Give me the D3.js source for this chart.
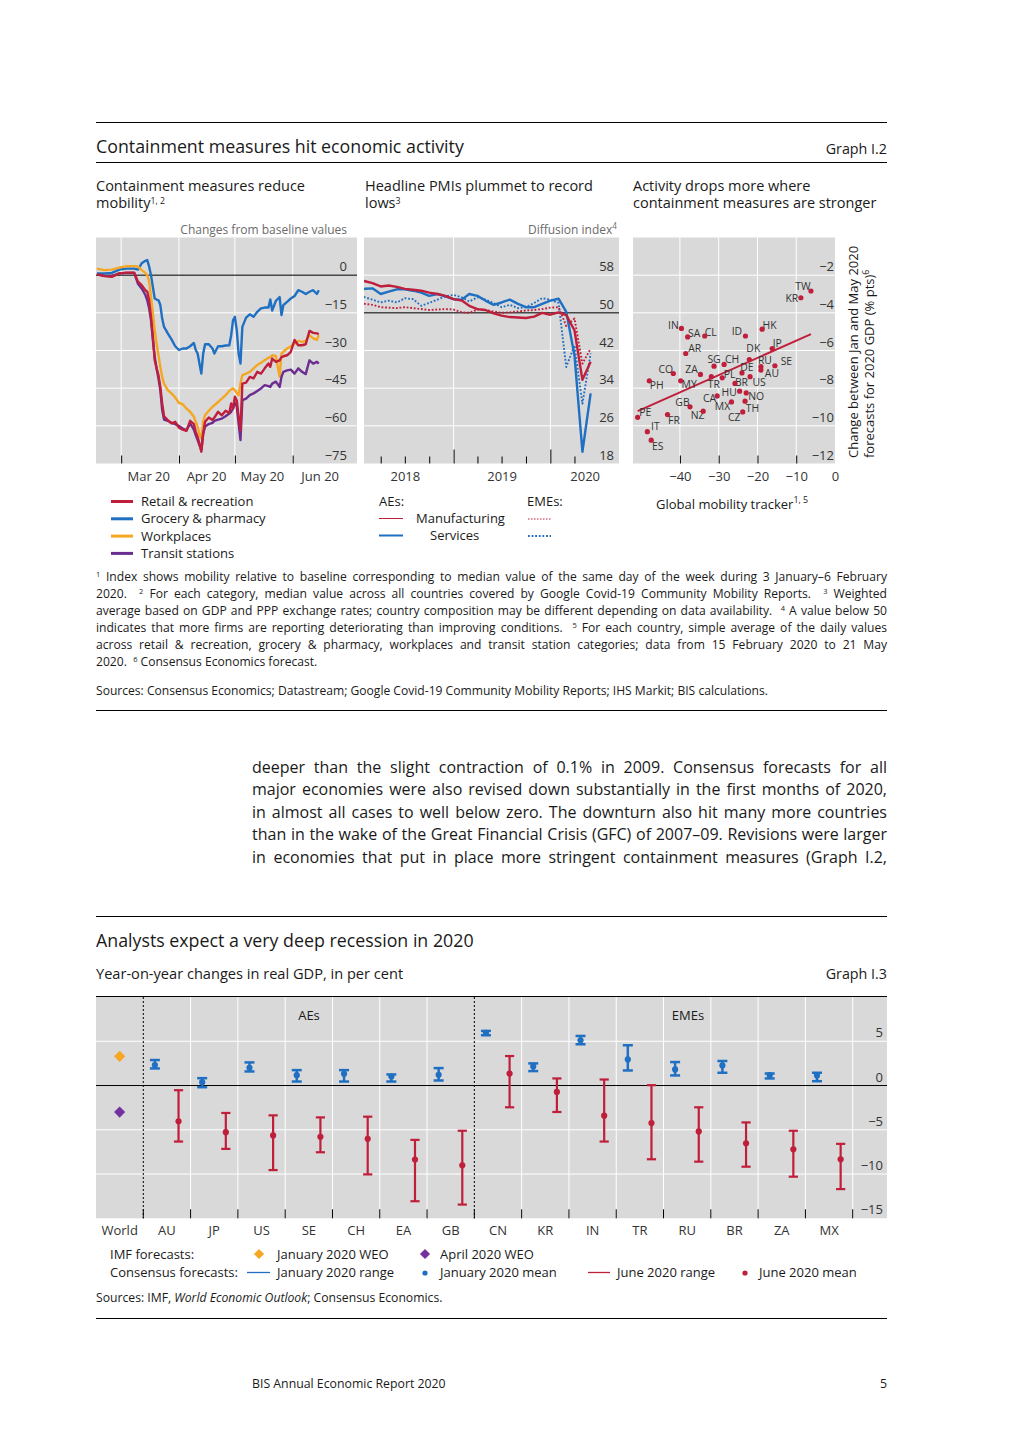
<!DOCTYPE html>
<html><head><meta charset="utf-8">
<script src="https://cdn.jsdelivr.net/npm/d3@7/dist/d3.min.js"></script>
<style>
html,body{margin:0;padding:0;background:#fff;}
svg{display:block;font-family:'Open Sans','Noto Sans',sans-serif;}
</style></head>
<body>
<svg id="page" width="1019" height="1440"></svg>
<script>
// ================= DATA =================
// Panel 1: mobility (changes from baseline)
const mobDates = ["2020-02-17","2020-02-21","2020-02-25","2020-02-29","2020-03-04","2020-03-08","2020-03-10","2020-03-12","2020-03-14","2020-03-15","2020-03-16","2020-03-17","2020-03-18","2020-03-19","2020-03-20","2020-03-21","2020-03-22","2020-03-23","2020-03-24","2020-03-26","2020-03-28","2020-03-30","2020-04-01","2020-04-03","2020-04-05","2020-04-07","2020-04-09","2020-04-10","2020-04-11","2020-04-12","2020-04-13","2020-04-14","2020-04-15","2020-04-17","2020-04-19","2020-04-20","2020-04-22","2020-04-24","2020-04-26","2020-04-28","2020-04-29","2020-04-30","2020-05-01","2020-05-02","2020-05-03","2020-05-04","2020-05-05","2020-05-07","2020-05-09","2020-05-11","2020-05-13","2020-05-15","2020-05-17","2020-05-19","2020-05-20","2020-05-21","2020-05-23","2020-05-25","2020-05-26","2020-05-27","2020-05-29","2020-05-31","2020-06-02","2020-06-04","2020-06-06","2020-06-08","2020-06-10","2020-06-12","2020-06-14","2020-06-15"];
const retail = [0.3,-0.4,-0.7,0.7, 1.0,1.0,-2.6,-4.0,-6.0,-6.6,-10,-16.6,-24.5,-33.9,-37.1,-39.8,-44.5,-51.1,-56.2,-57.7,-59,-58.4, -60.7,-61.5,-62,-58,-59.3,-62.4,-64.4,-67.1,-70.3,-63.1,-58.4,-56.7,-57.7,-56.7,-54.4,-55.8,-54,-54.9,-51.1,-53.1, -48.4,-49.8,-56.4,-61.8,-43.2,-42.8,-40.5,-41.1,-38.5,-39.2,-37.1,-35.2,-36.5,-33.2,-34.5,-33.9,-32.6,-32.3,-31.9,-30.5, -25.8,-27.9,-27.9,-27.5,-22.2,-23,-23.2,-23.5];
const grocery = [0.7,0.7,0.9,2.2, 2.6,2.6,2.2,4.7,5.7,6.0,3.4,0,-4.7,-9.3,-9.7,-10,-11.9,-17.3,-20.6,-23.2,-25.6,-28.3, -29.8,-29.2,-29.2,-28.3,-27,-29.8,-31.2,-35.2,-39.2,-31.2,-27.5,-27.5,-29.2,-31.2,-28.3,-28.3,-28,-27.9,-23.9,-18, -16.6,-21.9,-31.2,-35.2,-20.6,-16.9,-15.6,-16.6,-14.6,-13.2,-12.9,-12.9,-9.7,-14.1,-10.2,-8.7,-15.9,-11.9,-10.6,-9.3, -8.3,-6,-6.6,-7.5,-6.6,-6,-7.5,-6];
const workplaces = [2.6,2.0,2.2,3.0, 3.6,3.6,3.4,2.0,0.9,0,-2.6,-8.7,-15.3,-21.9,-27.2,-31.9,-36.5,-40.5,-43.2,-45.8,-47.1,-48.7, -50.9,-51.4,-53.1,-54.4,-56.4,-58.4,-60.3,-63.5,-65,-58.4,-55.8,-54,-52.4,-51.8,-50.5,-49.2,-47.8,-46.1,-45.5,-45.1, -45.8,-46.8,-47.8,-43.2,-39.8,-39.2,-38.5,-37.1,-35.8,-34.9,-33.9,-32.9,-32.6,-31.9,-32.3,-40.5,-31.2,-30.5,-29.2,-28.3, -27.2,-26.2,-26.6,-26.2,-23.9,-25.2,-25.8,-23.9];
const transit = [0.4,-0.3,-0.4,0.7, 0.9,0.9,-3.4,-5.3,-7.9,-10,-13.2,-17.9,-25.8,-32.6,-37.1,-41.1,-45.8,-53.7,-57.5,-58,-58.8,-59.3, -60.1,-61.1,-61.8,-59,-61.5,-63.7,-65.7,-67.7,-69.7,-63.1,-60.3,-59.3,-58.8,-58,-57.5,-57.1,-56.2,-55.1,-54.4,-53.1, -50.9,-52.2,-59,-65.7,-49.8,-49.2,-47.8,-47.1,-46.1,-45.1,-43.8,-44.2,-44.5,-43.2,-42.4,-44.5,-40.5,-38.5,-37.9,-37.6, -39.2,-37.1,-38.5,-39.4,-33.9,-35.2,-34.5,-35.2];
const mobTicks = [0,-15,-30,-45,-60,-75];

// Panel 2: PMIs (diffusion index), monthly
const pmiMonths = ["2017-12","2018-01","2018-02","2018-03","2018-04","2018-05","2018-06","2018-07","2018-08","2018-09","2018-10","2018-11","2018-12","2019-01","2019-02","2019-03","2019-04","2019-05","2019-06","2019-07","2019-08","2019-09","2019-10","2019-11","2019-12","2020-01","2020-02","2020-03","2020-04","2020-05"];
const aeManufacturing = [57.1,56.7,56.3,55.6,55.8,55.5,55.1,54.9,54.7,54.3,54.0,53.6,52.9,52.6,51.5,50.8,50.6,49.9,49.4,49.1,49.0,48.9,49.2,50.0,49.6,50.1,49.5,46.3,35.8,39.6];
const aeServices = [54.7,55.1,55.2,54.0,54.5,55.0,55.0,54.7,54.3,53.6,54.0,53.5,52.9,52.8,54.0,53.6,52.6,51.7,52.2,52.8,51.9,51.2,51.2,51.9,52.6,53.0,50.2,41.0,20.5,32.9];
const emeManufacturing = [52.2,51.9,51.7,51.2,51.1,51.0,51.2,51.0,50.8,50.6,50.7,50.8,50.7,50.1,50.0,50.7,50.6,50.3,50.0,50.1,50.3,50.5,50.6,50.8,51.1,51.2,47.2,48.8,39.2,42.4];
const emeServices = [53.8,53.3,52.8,52.2,52.6,52.2,53.1,52.9,51.5,52.1,52.8,53.5,53.8,53.3,52.4,53.3,52.8,52.1,51.2,51.7,51.0,51.2,52.1,53.1,52.8,52.1,38.5,43.1,30.7,41.4];
const pmiTicks = [58,50,42,34,26,18];
const pmiYears = ["2018","2019","2020"];

// Panel 3: scatter
const scCodes = ["TW","KR","IN","SA","CL","ID","HK","JP","AR","DK","SG","CH","RU","SE","DE","AU","CO","ZA","PL","TR","US","MY","PH","BR","HU","NO","CA","MX","TH","GB","NZ","CZ","FR","PE","IT","ES"];
const scMobility = [-6.2,-8.8,-39.6,-38.0,-33.6,-23.1,-18.8,-16.2,-38.5,-22.1,-31.2,-28.6,-19.1,-15.5,-24.0,-19.1,-41.7,-34.7,-29.1,-31.9,-21.9,-39.8,-47.9,-25.8,-24.6,-22.9,-30.4,-26.7,-23.2,-37.4,-34.0,-23.8,-43.2,-50.9,-48.4,-47.4];
const scRevision = [-2.84,-3.2,-4.83,-5.28,-5.23,-5.23,-4.87,-5.9,-6.16,-6.48,-6.83,-6.74,-6.86,-6.81,-7.19,-7.04,-7.22,-7.27,-7.45,-7.39,-7.39,-7.61,-7.61,-7.75,-8.16,-8.25,-8.41,-8.73,-8.69,-8.99,-9.22,-9.26,-9.4,-9.55,-10.31,-10.76];
const trendMobility = [-50.9,-6.2];
const trendRevision = [-9.22,-5.13];
const scXTicks = [-40,-30,-20,-10,0];
const scYTicks = [-2,-4,-6,-8,-10,-12];

// Graph I.3: GDP forecasts
const gdpCats = ["World","AU","JP","US","SE","CH","EA","GB","CN","KR","IN","TR","RU","BR","ZA","MX"];
const imfJan2020 = [3.3];
const imfApr2020 = [-3.0];
const consCountries = ["AU","JP","US","SE","CH","EA","GB","CN","KR","IN","TR","RU","BR","ZA","MX"];
const janLow  = [1.93,-0.19,1.59,0.45,0.45,0.45,0.57,5.68,1.63,4.66,1.7,1.14,1.44,0.8,0.49];
const janHigh = [2.88,0.83,2.61,1.74,1.74,1.25,1.97,6.17,2.5,5.6,4.55,2.65,2.77,1.36,1.44];
const janMean = [2.31,0.38,2.0,1.17,1.33,1.02,1.21,5.95,2.16,5.11,2.95,1.82,2.27,1.17,1.14];
const junLow  = [-6.33,-7.16,-9.55,-7.54,-10.04,-13.07,-13.45,-2.46,-2.99,-6.33,-8.33,-8.6,-9.17,-10.3,-11.7];
const junHigh = [-0.53,-3.1,-3.37,-3.6,-3.52,-6.14,-5.11,3.33,0.8,0.68,0.04,-2.46,-4.17,-5.11,-6.59];
const junMean = [-4.05,-5.27,-5.64,-5.8,-6.02,-8.37,-9.02,1.36,-0.72,-3.41,-4.24,-5.19,-6.52,-7.2,-8.33];
const gdpTicks = [5,0,-5,-10,-15];

// ================= DRAWING =================
const svg = d3.select("#page");
const C = {red:"#bf1f3b", blue:"#1f6fc2", orange:"#f5a623", purple:"#6b2d90", diamondPurple:"#7332a0",
           bg:"#d9d9d9", ink:"#1a1a1a", tick:"#333333", unit:"#6b6b6b"};

function addText(parent, x, y, parts, o = {}) {
  const fs = o.size || 13;
  const t = parent.append("text").attr("x", x).attr("y", y).attr("font-size", fs)
    .attr("fill", o.fill || C.ink).attr("text-anchor", o.anchor || "start");
  if (o.transform) t.attr("transform", o.transform);
  if (!Array.isArray(parts)) parts = [parts];
  let shift = 0;
  const raise = o.raise || 0.4, supSize = o.supSize || 0.68;
  parts.forEach(p => {
    const obj = typeof p !== "string";
    const s = t.append("tspan").text(obj ? p.t : p);
    if (obj && p.sup) { s.attr("font-size", fs * supSize).attr("dy", -fs * raise - shift); shift = -fs * raise; }
    else if (shift) { s.attr("dy", -shift); shift = 0; }
    if (obj && p.i) s.attr("font-style", "italic");
  });
  return t;
}
function justify(t, width) {
  const len = t.node().getComputedTextLength();
  const n = (t.text().match(/[ \u00A0]/g) || []).length;
  if (n) t.attr("word-spacing", (width - len) / n);
}
function rule(y) {
  svg.append("line").attr("x1", 96).attr("x2", 887).attr("y1", y).attr("y2", y)
    .attr("stroke", "#000").attr("stroke-width", 1);
}
function styleAxis(a, size) {
  a.attr("font-family", null).attr("font-size", size || 13);
  a.select(".domain").remove();
  a.selectAll("text").attr("fill", C.tick);
}

// ---------- Graph I.2 header ----------
rule(122.5);
addText(svg, 96, 153, "Containment measures hit economic activity", {size: 17.8});
addText(svg, 887, 153.5, "Graph I.2", {size: 14.3, anchor: "end"});
rule(162.5);

const supT = {size: 14.5, raise: 0.3, supSize: 0.6};
addText(svg, 96, 190.5, "Containment measures reduce", {size: 14.5});
addText(svg, 96, 208, ["mobility", {t: "1, 2", sup: true}], supT);
addText(svg, 365, 190.5, "Headline PMIs plummet to record", {size: 14.5});
addText(svg, 365, 208, ["lows", {t: "3", sup: true}], supT);
addText(svg, 633, 190.5, "Activity drops more where", {size: 14.5});
addText(svg, 633, 208, "containment measures are stronger", {size: 14.5});
addText(svg, 347, 233.5, "Changes from baseline values", {size: 12, anchor: "end", fill: C.unit});
addText(svg, 617, 233.5, ["Diffusion index", {t: "4", sup: true}], {size: 12, anchor: "end", fill: C.unit});

const PT = 237.5, PB = 463.5;
const defs = svg.append("defs");

// ---------- Panel 1: mobility ----------
{
  const X0 = 96, X1 = 357;
  const x = d3.scaleTime().domain([new Date(2020,1,16,12), new Date(2020,6,5,12)]).range([X0, X1]);
  const y = d3.scaleLinear().domain([-75, 15]).range([PB, PT]);
  const g = svg.append("g");
  g.append("rect").attr("x", X0).attr("y", PT).attr("width", X1 - X0).attr("height", PB - PT).attr("fill", C.bg);
  const mStarts = [new Date(2020,2,1), new Date(2020,3,1), new Date(2020,4,1), new Date(2020,5,1)];
  g.selectAll(null).data(mStarts).join("line")
    .attr("x1", d => x(d)).attr("x2", d => x(d)).attr("y1", PT).attr("y2", PB).attr("stroke", "#fff");
  g.selectAll(null).data(mobTicks.filter(v => v !== 0 && v !== -75)).join("line")
    .attr("x1", X0).attr("x2", X1).attr("y1", d => y(d)).attr("y2", d => y(d)).attr("stroke", "#fff");
  g.append("line").attr("x1", X0).attr("x2", X1).attr("y1", y(0)).attr("y2", y(0)).attr("stroke", "#000");
  const ta = g.append("g").attr("transform", `translate(0,${PB})`)
    .call(d3.axisBottom(x).tickValues(mStarts).tickSize(-8).tickFormat(""));
  styleAxis(ta); ta.selectAll("line").attr("stroke", "#000");
  const mids = mStarts.map(d => new Date(d.getFullYear(), d.getMonth(), 15, 12));
  const la = g.append("g").attr("transform", `translate(0,476)`)
    .call(d3.axisBottom(x).tickValues(mids).tickSize(0).tickFormat(d3.timeFormat("%b %y")));
  styleAxis(la); la.selectAll("text").attr("y", 0).attr("dy", "0.35em");
  const ya = g.append("g").attr("transform", `translate(347,0)`)
    .call(d3.axisLeft(y).tickValues(mobTicks).tickSize(0).tickPadding(0));
  styleAxis(ya); ya.selectAll("text").attr("y", -9).attr("dy", "0.35em");

  defs.append("clipPath").attr("id", "clip1").append("rect").attr("x", X0).attr("y", PT).attr("width", X1 - X0).attr("height", PB - PT);
  const dates = mobDates.map(d3.timeParse("%Y-%m-%d"));
  const line = d3.line().x((d, i) => x(dates[i])).y(d => y(d));
  const series = [[grocery, C.blue], [workplaces, C.orange], [transit, C.purple], [retail, C.red]];
  series.forEach(([vals, col]) => {
    g.append("path").attr("d", line(vals)).attr("fill", "none").attr("stroke", col)
      .attr("stroke-width", 2.4).attr("stroke-linejoin", "round").attr("clip-path", "url(#clip1)");
  });
  const leg = [["Retail & recreation", C.red], ["Grocery & pharmacy", C.blue], ["Workplaces", C.orange], ["Transit stations", C.purple]];
  leg.forEach(([lab, col], i) => {
    const yy = 501.5 + i * 17.3;
    svg.append("line").attr("x1", 111).attr("x2", 133).attr("y1", yy).attr("y2", yy).attr("stroke", col).attr("stroke-width", 3);
    addText(svg, 141, yy + 4.6, lab, {size: 13});
  });
}

// ---------- Panel 2: PMIs ----------
{
  const X0 = 364, X1 = 619;
  const x = d3.scaleTime().domain([new Date(2018,0,28), new Date(2020,8,16)]).range([X0, X1]);
  const y = d3.scaleLinear().domain([18, 66]).range([PB, PT]);
  const g = svg.append("g");
  g.append("rect").attr("x", X0).attr("y", PT).attr("width", X1 - X0).attr("height", PB - PT).attr("fill", C.bg);
  const yStarts = [new Date(2019,0,1), new Date(2020,0,1)];
  g.selectAll(null).data(yStarts).join("line")
    .attr("x1", d => x(d)).attr("x2", d => x(d)).attr("y1", PT).attr("y2", PB).attr("stroke", "#fff");
  g.selectAll(null).data(pmiTicks.filter(v => v !== 50 && v !== 18)).join("line")
    .attr("x1", X0).attr("x2", X1).attr("y1", d => y(d)).attr("y2", d => y(d)).attr("stroke", "#fff");
  g.append("line").attr("x1", X0).attr("x2", X1).attr("y1", y(50)).attr("y2", y(50)).attr("stroke", "#000");
  const quarters = [new Date(2018,3,1), new Date(2018,6,1), new Date(2018,9,1), new Date(2019,3,1), new Date(2019,6,1), new Date(2019,9,1), new Date(2020,3,1)];
  const qa = g.append("g").attr("transform", `translate(0,${PB})`)
    .call(d3.axisBottom(x).tickValues(quarters).tickSize(-7).tickFormat(""));
  styleAxis(qa); qa.selectAll("line").attr("stroke", "#000");
  const ya2 = g.append("g").attr("transform", `translate(0,${PB})`)
    .call(d3.axisBottom(x).tickValues(yStarts).tickSize(-14).tickFormat(""));
  styleAxis(ya2); ya2.selectAll("line").attr("stroke", "#000");
  const labDates = [new Date(2018,6,1), new Date(2019,6,1), x.invert((x(new Date(2020,0,1)) + X1) / 2)];
  const la = g.append("g").attr("transform", `translate(0,476)`)
    .call(d3.axisBottom(x).tickValues(labDates).tickSize(0).tickFormat((d, i) => pmiYears[i]));
  styleAxis(la); la.selectAll("text").attr("y", 0).attr("dy", "0.35em");
  const yl = g.append("g").attr("transform", `translate(614,0)`)
    .call(d3.axisLeft(y).tickValues(pmiTicks).tickSize(0).tickPadding(0));
  styleAxis(yl); yl.selectAll("text").attr("y", -9).attr("dy", "0.35em");

  defs.append("clipPath").attr("id", "clip2").append("rect").attr("x", X0).attr("y", PT).attr("width", X1 - X0).attr("height", PB - PT);
  const pts = pmiMonths.map(m => d3.timeMonth.offset(d3.timeParse("%Y-%m")(m), 1));
  const line = d3.line().x((d, i) => x(pts[i])).y(d => y(d));
  const series = [
    [emeServices, C.blue, true], [emeManufacturing, C.red, true],
    [aeServices, C.blue, false], [aeManufacturing, C.red, false]];
  series.forEach(([vals, col, dot]) => {
    g.append("path").attr("d", line(vals)).attr("fill", "none").attr("stroke", col)
      .attr("stroke-width", dot ? 1.9 : 2.4).attr("stroke-dasharray", dot ? "1.8,1.8" : null)
      .attr("stroke-linejoin", "round").attr("clip-path", "url(#clip2)");
  });
  addText(svg, 379, 506, "AEs:", {size: 13});
  addText(svg, 527, 506, "EMEs:", {size: 13});
  addText(svg, 416, 523, "Manufacturing", {size: 13});
  addText(svg, 430, 540, "Services", {size: 13});
  svg.append("line").attr("x1", 379).attr("x2", 403).attr("y1", 518.5).attr("y2", 518.5).attr("stroke", C.red).attr("stroke-width", 1);
  svg.append("line").attr("x1", 379).attr("x2", 403).attr("y1", 535.5).attr("y2", 535.5).attr("stroke", C.blue).attr("stroke-width", 2);
  svg.append("line").attr("x1", 528).attr("x2", 551).attr("y1", 519).attr("y2", 519).attr("stroke", C.red).attr("stroke-width", 1).attr("stroke-dasharray", "1.5,1.5");
  svg.append("line").attr("x1", 528).attr("x2", 551).attr("y1", 536).attr("y2", 536).attr("stroke", C.blue).attr("stroke-width", 2).attr("stroke-dasharray", "1.8,1.8");
}

// ---------- Panel 3: scatter ----------
{
  const X0 = 633, X1 = 835;
  const x = d3.scaleLinear().domain([-52.1, 0]).range([X0, X1]);
  const y = d3.scaleLinear().domain([-12, 0]).range([PB, PT]);
  const g = svg.append("g");
  g.append("rect").attr("x", X0).attr("y", PT).attr("width", X1 - X0).attr("height", PB - PT).attr("fill", C.bg);
  const vg = scXTicks.filter(v => v !== 0);
  g.selectAll(null).data(vg).join("line")
    .attr("x1", d => x(d)).attr("x2", d => x(d)).attr("y1", PT).attr("y2", PB).attr("stroke", "#fff");
  g.selectAll(null).data(scYTicks.filter(v => v !== -12)).join("line")
    .attr("x1", X0).attr("x2", X1).attr("y1", d => y(d)).attr("y2", d => y(d)).attr("stroke", "#fff");
  const ta = g.append("g").attr("transform", `translate(0,${PB})`)
    .call(d3.axisBottom(x).tickValues(vg).tickSize(-8).tickFormat(""));
  styleAxis(ta); ta.selectAll("line").attr("stroke", "#000");
  const la = g.append("g").attr("transform", `translate(0,476)`)
    .call(d3.axisBottom(x).tickValues(scXTicks).tickSize(0));
  styleAxis(la); la.selectAll("text").attr("y", 0).attr("dy", "0.35em");
  const yl = g.append("g").attr("transform", `translate(834,0)`)
    .call(d3.axisLeft(y).tickValues(scYTicks).tickSize(0).tickPadding(0));
  styleAxis(yl); yl.selectAll("text").attr("y", -9).attr("dy", "0.35em");

  g.append("line").attr("x1", x(trendMobility[0])).attr("y1", y(trendRevision[0]))
    .attr("x2", x(trendMobility[1])).attr("y2", y(trendRevision[1]))
    .attr("stroke", C.red).attr("stroke-width", 2);
  const labOff = {TW:[-8,-4.5],KR:[-9,1],IN:[-8,-3.5],SA:[6.5,-3.5],CL:[6,-3.5],ID:[-8.5,-5],HK:[7.5,-4],JP:[5,-5],
    AR:[9,-5],DK:[4,-11],SG:[0,-6.5],CH:[8,-5],RU:[4,-6.5],SE:[11.5,-4],DE:[5,-5.5],AU:[11,3.5],CO:[-7.5,-4],
    ZA:[-9,-5],PL:[7.5,-3.5],TR:[2.5,8],US:[9,5.5],MY:[8.5,3.5],PH:[7.5,4.5],BR:[6.5,-1],HU:[-10.5,1],NO:[10,3],
    CA:[-7.5,2.5],MX:[-9,4.5],TH:[7.5,7.5],GB:[-7.5,-4],NZ:[-5.5,4.5],CZ:[-8.5,5],FR:[6.5,5.5],PE:[7.5,-4.5],IT:[8,-5],ES:[6.5,6]};
  scCodes.forEach((c, i) => {
    const cx = x(scMobility[i]), cy = y(scRevision[i]);
    const o = labOff[c];
    g.append("text").attr("x", cx + o[0]).attr("y", cy + o[1]).attr("dy", "0.35em")
      .attr("text-anchor", "middle").attr("font-size", 10.4).attr("fill", C.tick).text(c);
  });
  scCodes.forEach((c, i) => {
    g.append("circle").attr("cx", x(scMobility[i])).attr("cy", y(scRevision[i])).attr("r", 2.6).attr("fill", C.red);
  });
  addText(svg, 656, 508.5, ["Global mobility tracker", {t: "1, 5", sup: true}], {size: 13});
  addText(svg, 0, 0, "Change between Jan and May 2020", {size: 13, transform: "translate(858,458) rotate(-90)"});
  addText(svg, 0, 0, ["forecasts for 2020 GDP (% pts)", {t: "6", sup: true}], {size: 13, transform: "translate(874,458) rotate(-90)"});
}

// ---------- Footnotes ----------
{
  const fs = 12.1, W = 791;
  const lines = [
    [{t:"1",sup:true}, " Index shows mobility relative to baseline corresponding to median value of the same day of the week during 3 January\u20136 February"],
    ["2020.\u00A0 ", {t:"2",sup:true}, " For each category, median value across all countries covered by Google Covid-19 Community Mobility Reports.\u00A0 ", {t:"3",sup:true}, " Weighted"],
    ["average based on GDP and PPP exchange rates; country composition may be different depending on data availability.\u00A0 ", {t:"4",sup:true}, " A value below 50"],
    ["indicates that more firms are reporting deteriorating than improving conditions.\u00A0 ", {t:"5",sup:true}, " For each country, simple average of the daily values"],
    ["across retail & recreation, grocery & pharmacy, workplaces and transit station categories; data from 15 February 2020 to 21 May"],
    ["2020.\u00A0 ", {t:"6",sup:true}, " Consensus Economics forecast."]
  ];
  lines.forEach((parts, i) => {
    const t = addText(svg, 96, 581 + i * 17, parts, {size: fs, raise: 0.3, supSize: 0.62});
    if (i < lines.length - 1) justify(t, W);
  });
  addText(svg, 96, 695, "Sources: Consensus Economics; Datastream; Google Covid-19 Community Mobility Reports; IHS Markit; BIS calculations.", {size: 12.1});
}
rule(710.5);

// ---------- Body text ----------
{
  const body = [
    "deeper than the slight contraction of 0.1% in 2009. Consensus forecasts for all",
    "major economies were also revised down substantially in the first months of 2020,",
    "in almost all cases to well below zero. The downturn also hit many more countries",
    "than in the wake of the Great Financial Crisis (GFC) of 2007\u201309. Revisions were larger",
    "in economies that put in place more stringent containment measures (Graph I.2,"
  ];
  body.forEach((s, i) => {
    const t = addText(svg, 252, 772.5 + i * 22.6, s, {size: 16});
    justify(t, 635);
  });
}

// ---------- Graph I.3 ----------
rule(916.5);
addText(svg, 96, 947, "Analysts expect a very deep recession in 2020", {size: 17.8});
addText(svg, 96, 979, "Year-on-year changes in real GDP, in per cent", {size: 14.6});
addText(svg, 887, 979, "Graph I.3", {size: 14.3, anchor: "end"});
{
  const GT = 997, GB = 1218.3, GX0 = 96, GX1 = 887;
  const x = d3.scaleBand().domain(gdpCats).range([96, 852.7]);
  const bw = x.bandwidth();
  const y = d3.scaleLinear().domain([-15, 10]).range([GB, GT]);
  const g = svg.append("g");
  g.append("rect").attr("x", GX0).attr("y", GT).attr("width", GX1 - GX0).attr("height", GB - GT).attr("fill", C.bg);
  const bounds = gdpCats.slice(1).map(c => x(c)).concat([x.range()[1]]);
  const dashed = [x("AU"), x("CN")];
  g.selectAll(null).data(bounds.filter(b => !dashed.includes(b))).join("line")
    .attr("x1", d => d).attr("x2", d => d).attr("y1", GT).attr("y2", GB).attr("stroke", "#fff");
  g.selectAll(null).data(gdpTicks.filter(v => v !== 0 && v !== -15)).join("line")
    .attr("x1", GX0).attr("x2", GX1).attr("y1", d => y(d)).attr("y2", d => y(d)).attr("stroke", "#fff");
  g.selectAll(null).data(dashed).join("line")
    .attr("x1", d => d).attr("x2", d => d).attr("y1", GT).attr("y2", GB).attr("stroke", "#000")
    .attr("stroke-width", 1).attr("stroke-dasharray", "2,2");
  g.append("line").attr("x1", GX0).attr("x2", GX1).attr("y1", y(0)).attr("y2", y(0)).attr("stroke", "#000");
  g.selectAll(null).data(bounds).join("line")
    .attr("x1", d => d).attr("x2", d => d).attr("y1", GB - 9).attr("y2", GB).attr("stroke", "#000");
  const ca = g.append("g").attr("transform", "translate(0,1230)")
    .call(d3.axisBottom(x).tickSize(0));
  styleAxis(ca); ca.selectAll("text").attr("y", 0).attr("dy", "0.35em");
  const yl = g.append("g").attr("transform", "translate(883,0)")
    .call(d3.axisLeft(y).tickValues(gdpTicks).tickSize(0).tickPadding(0));
  styleAxis(yl); yl.selectAll("text").attr("y", -9).attr("dy", "0.35em");
  addText(g, 309, 1019.5, "AEs", {size: 13, anchor: "middle"});
  addText(g, 688, 1019.5, "EMEs", {size: 13, anchor: "middle"});

  const wx = x("World") + bw / 2;
  const diamond = d3.symbol().type(d3.symbolSquare).size(62);
  g.append("path").attr("d", diamond()).attr("transform", `translate(${wx},${y(imfJan2020[0])}) rotate(45)`).attr("fill", C.orange);
  g.append("path").attr("d", diamond()).attr("transform", `translate(${wx},${y(imfApr2020[0])}) rotate(45)`).attr("fill", C.diamondPurple);

  function errBar(cx, lo, hi, mean, col, cap, w) {
    g.append("line").attr("x1", cx).attr("x2", cx).attr("y1", y(lo)).attr("y2", y(hi)).attr("stroke", col).attr("stroke-width", w);
    [lo, hi].forEach(v => g.append("line").attr("x1", cx - cap).attr("x2", cx + cap).attr("y1", y(v)).attr("y2", y(v))
      .attr("stroke", col).attr("stroke-width", w));
    g.append("circle").attr("cx", cx).attr("cy", y(mean)).attr("r", 3.1).attr("fill", col);
  }
  consCountries.forEach((c, i) => {
    errBar(x(c) + bw * 0.245, janLow[i], janHigh[i], janMean[i], C.blue, 5, 2.5);
    errBar(x(c) + bw * 0.745, junLow[i], junHigh[i], junMean[i], C.red, 4.6, 2.2);
  });

  addText(svg, 110, 1258.5, "IMF forecasts:", {size: 13});
  addText(svg, 110, 1276.5, "Consensus forecasts:", {size: 13});
  svg.append("path").attr("d", d3.symbol().type(d3.symbolSquare).size(52)()).attr("transform", "translate(259,1254) rotate(45)").attr("fill", C.orange);
  addText(svg, 277, 1258.5, "January 2020 WEO", {size: 13});
  svg.append("path").attr("d", d3.symbol().type(d3.symbolSquare).size(52)()).attr("transform", "translate(425,1254) rotate(45)").attr("fill", C.diamondPurple);
  addText(svg, 440, 1258.5, "April 2020 WEO", {size: 13});
  svg.append("line").attr("x1", 247).attr("x2", 270).attr("y1", 1272.5).attr("y2", 1272.5).attr("stroke", C.blue).attr("stroke-width", 1.3);
  addText(svg, 277, 1276.5, "January 2020 range", {size: 13});
  svg.append("circle").attr("cx", 425).attr("cy", 1273).attr("r", 2.6).attr("fill", C.blue);
  addText(svg, 440, 1276.5, "January 2020 mean", {size: 13});
  svg.append("line").attr("x1", 588).attr("x2", 610).attr("y1", 1272.5).attr("y2", 1272.5).attr("stroke", C.red).attr("stroke-width", 1.3);
  addText(svg, 617, 1276.5, "June 2020 range", {size: 13});
  svg.append("circle").attr("cx", 745).attr("cy", 1273).attr("r", 2.6).attr("fill", C.red);
  addText(svg, 759, 1276.5, "June 2020 mean", {size: 13});
  addText(svg, 96, 1302, ["Sources: IMF, ", {t: "World Economic Outlook", i: true}, "; Consensus Economics."], {size: 12.2});
}
rule(996.5);
rule(1318.5);

addText(svg, 252, 1387.5, "BIS Annual Economic Report 2020", {size: 12.3});
addText(svg, 887, 1387.5, "5", {size: 12.3, anchor: "end"});
</script>
</body></html>
